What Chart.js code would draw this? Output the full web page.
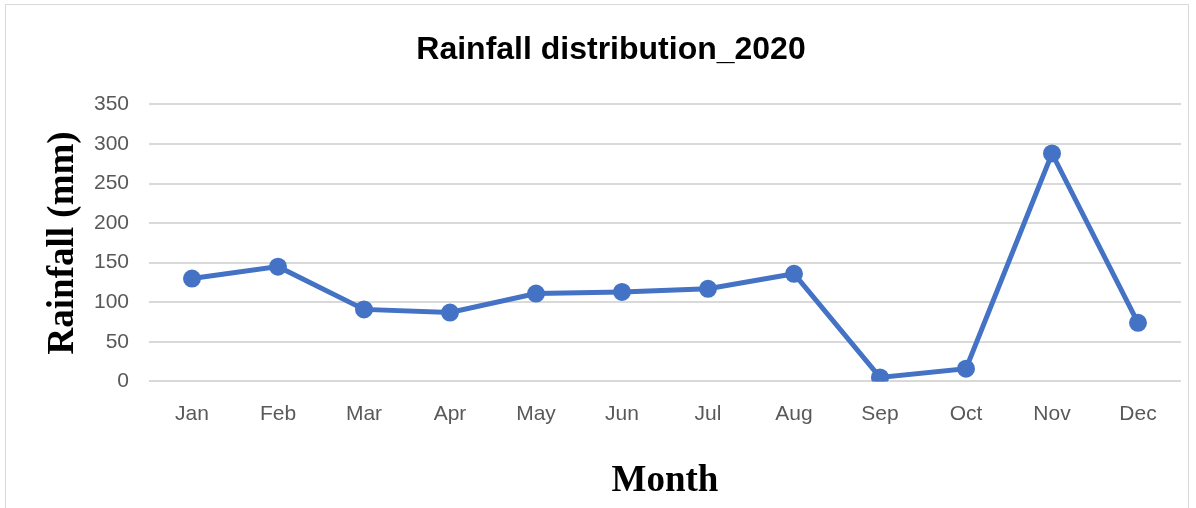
<!DOCTYPE html>
<html>
<head>
<meta charset="utf-8">
<script src="https://cdn.jsdelivr.net/npm/chart.js@4/dist/chart.umd.min.js"></script>
<style>
    html, body { margin: 0; padding: 0; background: #fff; }
    #wrap {
        position: absolute; left: 5px; top: 4px;
        width: 1184px; height: 520px;
        border: 1px solid #d9d9d9; box-sizing: border-box;
    }
    #chart { position: absolute; left: -5px; top: -4px; }
</style>
</head>
<body>
<div id="wrap"><canvas id="chart" width="1196" height="508"></canvas></div>
<script>
const months = ['Jan', 'Feb', 'Mar', 'Apr', 'May', 'Jun', 'Jul', 'Aug', 'Sep', 'Oct', 'Nov', 'Dec'];
const rainfall = [130, 145, 91, 87, 111, 113, 117, 136, 5, 16, 288, 74];
const yTicks = [0, 50, 100, 150, 200, 250, 300, 350];

const tickFont = { family: "'Liberation Sans Narrow', 'Liberation Sans', Arial, sans-serif", size: 21 };
const axisTitleFont = { family: "'Liberation Serif', 'Times New Roman', serif", size: 37, weight: 'bold' };

new Chart(document.getElementById('chart'), {
    type: 'line',
    data: {
        labels: months,
        datasets: [{
            label: 'Rainfall',
            data: rainfall,
            borderColor: '#4472C4',
            backgroundColor: '#4472C4',
            borderWidth: 5,
            pointRadius: 6.5,
            pointHoverRadius: 6.5,
            tension: 0
        }]
    },
    options: {
        responsive: false,
        animation: false,
        layout: { padding: { left: 40, right: 16, top: 30, bottom: 5 } },
        plugins: {
            legend: { display: false },
            tooltip: { enabled: false },
            title: {
                display: true,
                text: 'Rainfall distribution_2020',
                color: '#000',
                font: { family: "'Liberation Sans', Arial, sans-serif", size: 32, weight: 'bold' },
                padding: { top: 0, bottom: 35 }
            }
        },
        scales: {
            x: {
                offset: true,
                grid: { display: false },
                border: { display: false },
                ticks: { color: '#595959', font: tickFont, padding: 12, maxRotation: 0 },
                title: {
                    display: true, text: 'Month', color: '#000', font: axisTitleFont,
                    padding: { top: 21, bottom: 0 }
                }
            },
            y: {
                min: 0, max: 350,
                afterBuildTicks: axis => { axis.ticks = yTicks.map(v => ({ value: v })); },
                afterFit: axis => { axis.width = 108; },
                grid: { color: '#d9d9d9', lineWidth: 2, drawTicks: false },
                border: { display: false },
                ticks: { color: '#595959', font: tickFont, padding: 20 },
                title: {
                    display: true, text: 'Rainfall (mm)', color: '#000', font: axisTitleFont,
                    padding: { top: 0, bottom: 0 }
                }
            }
        }
    }
});
</script>
</body>
</html>
